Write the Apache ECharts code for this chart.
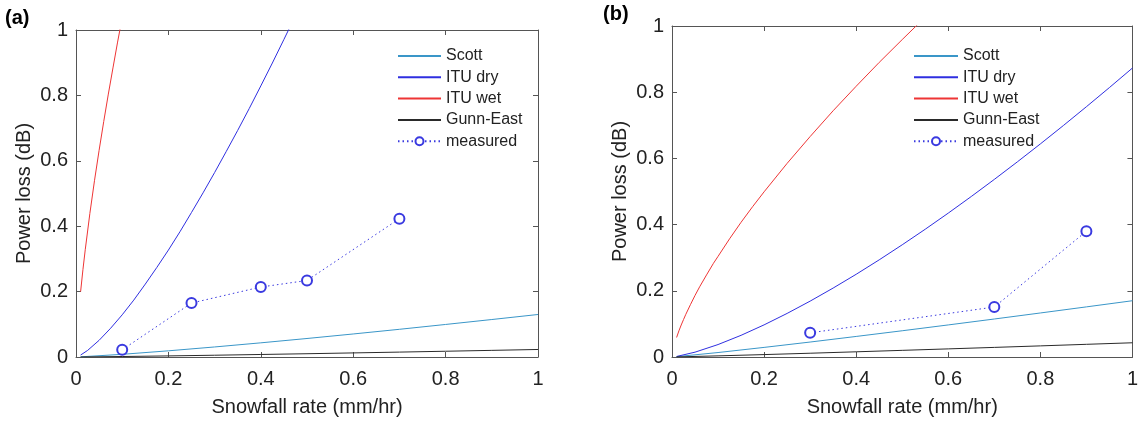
<!DOCTYPE html>
<html>
<head>
<meta charset="utf-8">
<script src="https://cdn.jsdelivr.net/npm/echarts@6/dist/echarts.min.js"></script>
<style>
html,body{margin:0;padding:0;background:#fff;}
#chart{width:1141px;height:423px;}
</style>
</head>
<body>
<div id="chart"></div>
<script>
// ---------- data ----------
const seriesNames = ['Scott', 'ITU dry', 'ITU wet', 'Gunn-East', 'measured'];
const xTicks = [0, 0.2, 0.4, 0.6, 0.8, 1];
const yTicks = [0, 0.2, 0.4, 0.6, 0.8, 1];

// panel (a)
const rateA = [0.01, 0.1, 0.2, 0.3, 0.4, 0.5, 0.6, 0.7, 0.8, 0.9, 1.0];
const scottA = [0.0005, 0.0082, 0.0189, 0.0307, 0.0433, 0.0566, 0.0704, 0.0847, 0.0995, 0.1146, 0.13];
const gunnA = [0.0001, 0.0015, 0.0033, 0.0054, 0.0077, 0.0100, 0.0125, 0.0150, 0.0176, 0.0203, 0.023];
const rateDryA = [0.01, 0.025, 0.05, 0.075, 0.1, 0.125, 0.15, 0.175, 0.2, 0.225, 0.25, 0.275, 0.3, 0.325, 0.35, 0.375, 0.4, 0.425, 0.45, 0.475, 0.5];
const ituDryA = [0.006, 0.020, 0.051, 0.088, 0.129, 0.174, 0.223, 0.274, 0.327, 0.383, 0.442, 0.502, 0.564, 0.628, 0.693, 0.760, 0.829, 0.899, 0.971, 1.044, 1.118];
const rateWetA = [0.01, 0.015, 0.02, 0.03, 0.04, 0.05, 0.06, 0.07, 0.08, 0.09, 0.10];
const ituWetA = [0.2, 0.267, 0.328, 0.439, 0.539, 0.632, 0.720, 0.804, 0.884, 0.963, 1.038];
const measRateA = [0.1, 0.25, 0.4, 0.5, 0.7];
const measA = [0.022, 0.165, 0.214, 0.234, 0.423];

// panel (b)
const rateB = [0.01, 0.1, 0.2, 0.3, 0.4, 0.5, 0.6, 0.7, 0.8, 0.9, 1.0];
const scottB = [0.0011, 0.0135, 0.029, 0.0452, 0.0621, 0.0793, 0.0969, 0.1148, 0.133, 0.1514, 0.17];
const gunnB = [0.0003, 0.0034, 0.0073, 0.0114, 0.0157, 0.0201, 0.0245, 0.029, 0.0336, 0.0383, 0.043];
const rateDryB = [0.01, 0.05, 0.1, 0.15, 0.2, 0.25, 0.3, 0.35, 0.4, 0.45, 0.5, 0.55, 0.6, 0.65, 0.7, 0.75, 0.8, 0.85, 0.9, 0.95, 1.0];
const ituDryB = [0.0016, 0.0146, 0.0376, 0.0655, 0.0971, 0.1317, 0.1688, 0.2083, 0.2499, 0.2935, 0.339, 0.386, 0.4347, 0.4849, 0.5365, 0.5895, 0.6437, 0.6993, 0.7561, 0.814, 0.873];
const rateWetB = [0.01, 0.015, 0.02, 0.025, 0.03, 0.04, 0.05, 0.06, 0.075, 0.09, 0.1, 0.125, 0.15, 0.175, 0.2, 0.25, 0.3, 0.35, 0.4, 0.45, 0.5, 0.55];
const ituWetB = [0.059, 0.079, 0.0967, 0.113, 0.129, 0.158, 0.186, 0.212, 0.248, 0.283, 0.304, 0.357, 0.407, 0.454, 0.499, 0.585, 0.666, 0.744, 0.818, 0.890, 0.959, 1.027];
const measRateB = [0.3, 0.7, 0.9];
const measB = [0.073, 0.151, 0.38];

// ---------- styling ----------
const colors = {
  'Scott': '#3a96c8',
  'ITU dry': '#2f2fe0',
  'ITU wet': '#ee3535',
  'Gunn-East': '#2a2a2a',
  'measured': '#3a3ae0'
};
const FONT = 'Arial, "Liberation Sans", Helvetica, sans-serif';
const AXIS_COLOR = '#555555';

function pairs(xs, ys) { return xs.map((x, i) => [x, ys[i]]); }

function makeX(gridIndex, pos, showLabel) {
  return {
    type: 'value', gridIndex: gridIndex, position: pos,
    min: 0, max: 1, interval: 0.2,
    name: showLabel ? 'Snowfall rate (mm/hr)' : '',
    nameLocation: 'middle', nameGap: 40,
    nameTextStyle: { fontFamily: FONT, fontSize: 20, color: '#222' },
    axisLine: { show: true, onZero: false, lineStyle: { color: AXIS_COLOR, width: 1 } },
    axisTick: { show: true, inside: true, length: 5, lineStyle: { color: AXIS_COLOR } },
    axisLabel: { show: showLabel, fontFamily: FONT, fontSize: 20, color: '#222', margin: 12 },
    splitLine: { show: false }
  };
}
function makeY(gridIndex, pos, showLabel) {
  return {
    type: 'value', gridIndex: gridIndex, position: pos,
    min: 0, max: 1, interval: 0.2,
    name: showLabel ? 'Power loss (dB)' : '',
    nameLocation: 'middle', nameGap: 42, nameRotate: 90,
    nameTextStyle: { fontFamily: FONT, fontSize: 20, color: '#222' },
    axisLine: { show: true, onZero: false, lineStyle: { color: AXIS_COLOR, width: 1 } },
    axisTick: { show: true, inside: true, length: 5, lineStyle: { color: AXIS_COLOR } },
    axisLabel: { show: showLabel, fontFamily: FONT, fontSize: 20, color: '#222', margin: 8 },
    splitLine: { show: false }
  };
}
function lineSeries(name, data, axisIdx) {
  return {
    name: name, type: 'line', data: data,
    xAxisIndex: axisIdx, yAxisIndex: axisIdx,
    showSymbol: false, symbol: 'none', smooth: false,
    clip: true, animation: false,
    lineStyle: { color: colors[name], width: 1 },
    itemStyle: { color: colors[name] }
  };
}
function measSeries(data, axisIdx) {
  return {
    name: 'measured', type: 'line', data: data,
    xAxisIndex: axisIdx, yAxisIndex: axisIdx,
    symbol: 'emptyCircle', symbolSize: 10, showSymbol: true,
    clip: true, animation: false,
    lineStyle: { color: colors['measured'], width: 1, type: [1.5, 3] },
    itemStyle: { color: colors['measured'], borderColor: colors['measured'], borderWidth: 1 }
  };
}

function legendData() {
  return seriesNames.map(n => n === 'measured'
    ? { name: n }
    : { name: n, itemStyle: { opacity: 0 } });
}
function makeLegend(left, top, w) {
  return {
    left: left, top: top, padding: 0,
    orient: 'vertical', itemWidth: w, itemHeight: 10, itemGap: 5.3,
    data: legendData(),
    textStyle: { fontFamily: FONT, fontSize: 16, color: '#222' },
    selectedMode: false
  };
}

const option = {
  backgroundColor: '#fff',
  animation: false,
  graphic: [
    { type: 'text', left: 5, top: 8, style: { text: '(a)', font: 'bold 20px ' + FONT, fill: '#000' } },
    { type: 'text', left: 603, top: 4, style: { text: '(b)', font: 'bold 20px ' + FONT, fill: '#000' } }
  ],
  grid: [
    { left: 76, top: 30, width: 462, height: 327, containLabel: false },
    { left: 672, top: 26, width: 466, height: 331, containLabel: false }
  ],
  legend: [makeLegend(397, 48, 43), makeLegend(913, 48, 44)],
  xAxis: [makeX(0, 'bottom', true), makeX(1, 'bottom', true), makeX(0, 'top', false), makeX(1, 'top', false)],
  yAxis: [makeY(0, 'left', true), makeY(1, 'left', true), makeY(0, 'right', false), makeY(1, 'right', false)],
  series: [
    lineSeries('Scott', pairs(rateA, scottA), 0),
    lineSeries('ITU dry', pairs(rateDryA, ituDryA), 0),
    lineSeries('ITU wet', pairs(rateWetA, ituWetA), 0),
    lineSeries('Gunn-East', pairs(rateA, gunnA), 0),
    measSeries(pairs(measRateA, measA), 0),
    lineSeries('Scott', pairs(rateB, scottB), 1),
    lineSeries('ITU dry', pairs(rateDryB, ituDryB), 1),
    lineSeries('ITU wet', pairs(rateWetB, ituWetB), 1),
    lineSeries('Gunn-East', pairs(rateB, gunnB), 1),
    measSeries(pairs(measRateB, measB), 1)
  ]
};

const chart = echarts.init(document.getElementById('chart'), null, { renderer: 'canvas' });
chart.setOption(option);
</script>
</body>
</html>
